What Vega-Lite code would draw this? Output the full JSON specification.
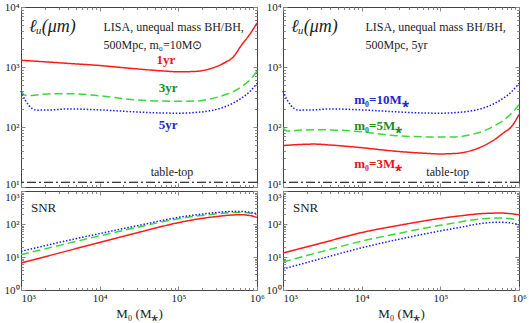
{
  "$schema": "https://vega.github.io/schema/vega-lite/v6.json",
  "background": "white",
  "padding": {"left": 3, "right": 6, "top": 0, "bottom": 4},
  "columns": 2,
  "spacing": {"row": 4, "column": 26},
  "bounds": "flush",
  "datasets": {
    "curves": [
      {"p":"TL","s":"1yr","M":1000,"v":1294},{"p":"TL","s":"1yr","M":1585,"v":1245},{"p":"TL","s":"1yr","M":2512,"v":1197},{"p":"TL","s":"1yr","M":3981,"v":1148},{"p":"TL","s":"1yr","M":10000,"v":1059},{"p":"TL","s":"1yr","M":25119,"v":948},{"p":"TL","s":"1yr","M":63096,"v":861},{"p":"TL","s":"1yr","M":100000,"v":832},{"p":"TL","s":"1yr","M":158489,"v":841},{"p":"TL","s":"1yr","M":251189,"v":933},{"p":"TL","s":"1yr","M":398107,"v":1202},{"p":"TL","s":"1yr","M":501187,"v":1479},{"p":"TL","s":"1yr","M":630957,"v":2291},{"p":"TL","s":"1yr","M":794328,"v":3388},{"p":"TL","s":"1yr","M":1000000,"v":5407},
      {"p":"TL","s":"3yr","M":1000,"v":409},{"p":"TL","s":"3yr","M":1122,"v":339},{"p":"TL","s":"3yr","M":1259,"v":335},{"p":"TL","s":"3yr","M":1585,"v":343},{"p":"TL","s":"3yr","M":2512,"v":359},{"p":"TL","s":"3yr","M":3981,"v":359},{"p":"TL","s":"3yr","M":10000,"v":331},{"p":"TL","s":"3yr","M":25119,"v":288},{"p":"TL","s":"3yr","M":63096,"v":270},{"p":"TL","s":"3yr","M":100000,"v":269},{"p":"TL","s":"3yr","M":158489,"v":270},{"p":"TL","s":"3yr","M":251189,"v":292},{"p":"TL","s":"3yr","M":398107,"v":347},{"p":"TL","s":"3yr","M":501187,"v":389},{"p":"TL","s":"3yr","M":630957,"v":468},{"p":"TL","s":"3yr","M":794328,"v":589},{"p":"TL","s":"3yr","M":1000000,"v":851},
      {"p":"TL","s":"5yr","M":1000,"v":398},{"p":"TL","s":"5yr","M":1122,"v":288},{"p":"TL","s":"5yr","M":1259,"v":229},{"p":"TL","s":"5yr","M":1585,"v":191},{"p":"TL","s":"5yr","M":2512,"v":193},{"p":"TL","s":"5yr","M":3981,"v":200},{"p":"TL","s":"5yr","M":10000,"v":193},{"p":"TL","s":"5yr","M":25119,"v":180},{"p":"TL","s":"5yr","M":63096,"v":171},{"p":"TL","s":"5yr","M":100000,"v":170},{"p":"TL","s":"5yr","M":158489,"v":174},{"p":"TL","s":"5yr","M":251189,"v":186},{"p":"TL","s":"5yr","M":398107,"v":219},{"p":"TL","s":"5yr","M":501187,"v":251},{"p":"TL","s":"5yr","M":630957,"v":302},{"p":"TL","s":"5yr","M":794328,"v":380},{"p":"TL","s":"5yr","M":1000000,"v":537},
      {"p":"TR","s":"10M","M":1000,"v":398},{"p":"TR","s":"10M","M":1122,"v":288},{"p":"TR","s":"10M","M":1259,"v":229},{"p":"TR","s":"10M","M":1585,"v":191},{"p":"TR","s":"10M","M":2512,"v":193},{"p":"TR","s":"10M","M":3981,"v":200},{"p":"TR","s":"10M","M":10000,"v":193},{"p":"TR","s":"10M","M":25119,"v":180},{"p":"TR","s":"10M","M":63096,"v":171},{"p":"TR","s":"10M","M":100000,"v":170},{"p":"TR","s":"10M","M":158489,"v":174},{"p":"TR","s":"10M","M":251189,"v":186},{"p":"TR","s":"10M","M":398107,"v":219},{"p":"TR","s":"10M","M":501187,"v":251},{"p":"TR","s":"10M","M":630957,"v":302},{"p":"TR","s":"10M","M":794328,"v":380},{"p":"TR","s":"10M","M":1000000,"v":537},
      {"p":"TR","s":"5M","M":1000,"v":96.2},{"p":"TR","s":"5M","M":1122,"v":86.1},{"p":"TR","s":"5M","M":1259,"v":86.1},{"p":"TR","s":"5M","M":1585,"v":88.1},{"p":"TR","s":"5M","M":2512,"v":90.2},{"p":"TR","s":"5M","M":3981,"v":89.5},{"p":"TR","s":"5M","M":10000,"v":83.2},{"p":"TR","s":"5M","M":25119,"v":72.4},{"p":"TR","s":"5M","M":63096,"v":68.4},{"p":"TR","s":"5M","M":100000,"v":68.1},{"p":"TR","s":"5M","M":158489,"v":68.4},{"p":"TR","s":"5M","M":251189,"v":75.0},{"p":"TR","s":"5M","M":398107,"v":91.2},{"p":"TR","s":"5M","M":501187,"v":107.2},{"p":"TR","s":"5M","M":630957,"v":128.8},{"p":"TR","s":"5M","M":794328,"v":166},{"p":"TR","s":"5M","M":1000000,"v":235.5},
      {"p":"TR","s":"3M","M":1000,"v":49.0},{"p":"TR","s":"3M","M":1585,"v":51.0},{"p":"TR","s":"3M","M":2512,"v":51.9},{"p":"TR","s":"3M","M":3981,"v":50.1},{"p":"TR","s":"3M","M":10000,"v":45.2},{"p":"TR","s":"3M","M":25119,"v":39.8},{"p":"TR","s":"3M","M":63096,"v":36.5},{"p":"TR","s":"3M","M":100000,"v":35.6},{"p":"TR","s":"3M","M":158489,"v":36.3},{"p":"TR","s":"3M","M":251189,"v":40.7},{"p":"TR","s":"3M","M":398107,"v":52.5},{"p":"TR","s":"3M","M":501187,"v":63.1},{"p":"TR","s":"3M","M":630957,"v":79.4},{"p":"TR","s":"3M","M":794328,"v":100},{"p":"TR","s":"3M","M":1000000,"v":160.3},
      {"p":"BL","s":"1yr","M":1000,"v":6.58},{"p":"BL","s":"1yr","M":3162,"v":13.49},{"p":"BL","s":"1yr","M":10000,"v":27.5},{"p":"BL","s":"1yr","M":31623,"v":56.2},{"p":"BL","s":"1yr","M":100000,"v":109.6},{"p":"BL","s":"1yr","M":199526,"v":147.9},{"p":"BL","s":"1yr","M":316228,"v":169.8},{"p":"BL","s":"1yr","M":501187,"v":188.4},{"p":"BL","s":"1yr","M":630957,"v":190.5},{"p":"BL","s":"1yr","M":794328,"v":182},{"p":"BL","s":"1yr","M":1000000,"v":158.5},
      {"p":"BL","s":"3yr","M":1000,"v":11.75},{"p":"BL","s":"3yr","M":3162,"v":22.9},{"p":"BL","s":"3yr","M":10000,"v":43.7},{"p":"BL","s":"3yr","M":31623,"v":81.3},{"p":"BL","s":"3yr","M":100000,"v":144.5},{"p":"BL","s":"3yr","M":199526,"v":182},{"p":"BL","s":"3yr","M":316228,"v":204.2},{"p":"BL","s":"3yr","M":501187,"v":223.9},{"p":"BL","s":"3yr","M":630957,"v":223.9},{"p":"BL","s":"3yr","M":794328,"v":213.8},{"p":"BL","s":"3yr","M":1000000,"v":190.5},
      {"p":"BL","s":"5yr","M":1000,"v":14.8},{"p":"BL","s":"5yr","M":3162,"v":28.2},{"p":"BL","s":"5yr","M":10000,"v":51.3},{"p":"BL","s":"5yr","M":31623,"v":91.2},{"p":"BL","s":"5yr","M":100000,"v":158.5},{"p":"BL","s":"5yr","M":199526,"v":199.5},{"p":"BL","s":"5yr","M":316228,"v":223.9},{"p":"BL","s":"5yr","M":501187,"v":239.9},{"p":"BL","s":"5yr","M":630957,"v":239.9},{"p":"BL","s":"5yr","M":794328,"v":229.1},{"p":"BL","s":"5yr","M":1000000,"v":204.2},
      {"p":"BR","s":"3M","M":1000,"v":13.2},{"p":"BR","s":"3M","M":3162,"v":26.9},{"p":"BR","s":"3M","M":10000,"v":55.0},{"p":"BR","s":"3M","M":31623,"v":93.3},{"p":"BR","s":"3M","M":100000,"v":147.9},{"p":"BR","s":"3M","M":199526,"v":182},{"p":"BR","s":"3M","M":316228,"v":204.2},{"p":"BR","s":"3M","M":501187,"v":213.8},{"p":"BR","s":"3M","M":630957,"v":213.8},{"p":"BR","s":"3M","M":794328,"v":204.2},{"p":"BR","s":"3M","M":1000000,"v":190.5},
      {"p":"BR","s":"5M","M":1000,"v":7.08},{"p":"BR","s":"5M","M":3162,"v":14.8},{"p":"BR","s":"5M","M":10000,"v":30.2},{"p":"BR","s":"5M","M":31623,"v":53.7},{"p":"BR","s":"5M","M":100000,"v":91.2},{"p":"BR","s":"5M","M":199526,"v":120.2},{"p":"BR","s":"5M","M":316228,"v":141.3},{"p":"BR","s":"5M","M":501187,"v":151.4},{"p":"BR","s":"5M","M":630957,"v":151.4},{"p":"BR","s":"5M","M":794328,"v":144.5},{"p":"BR","s":"5M","M":1000000,"v":128.8},
      {"p":"BR","s":"10M","M":1000,"v":4.33},{"p":"BR","s":"10M","M":3162,"v":9.12},{"p":"BR","s":"10M","M":10000,"v":19.05},{"p":"BR","s":"10M","M":31623,"v":35.5},{"p":"BR","s":"10M","M":100000,"v":61.7},{"p":"BR","s":"10M","M":199526,"v":83.2},{"p":"BR","s":"10M","M":316228,"v":102.3},{"p":"BR","s":"10M","M":501187,"v":112.2},{"p":"BR","s":"10M","M":630957,"v":112.2},{"p":"BR","s":"10M","M":794328,"v":107.2},{"p":"BR","s":"10M","M":1000000,"v":95.5}
    ],
    "notes": [
      {"p":"TL","M":11200,"v":4642,"t":"LISA, unequal mass BH/BH,"},
      {"p":"TL","M":11200,"v":2326,"t":"500Mpc, m₀=10M⊙"},
      {"p":"TR","M":11200,"v":4642,"t":"LISA, unequal mass BH/BH,"},
      {"p":"TR","M":11200,"v":2326,"t":"500Mpc, 5yr"}
    ],
    "sym": [
      {"p":"TL","M":1265,"v":4642,"t":"ℓᵤ(μm)"},
      {"p":"TR","M":1265,"v":4642,"t":"ℓᵤ(μm)"},
      {"p":"BL","M":1340,"v":305,"t":"SNR"},
      {"p":"BR","M":1340,"v":305,"t":"SNR"}
    ],
    "tags": [
      {"p":"TL","M":69660,"v":1309,"t":"1yr","s":"1yr"},
      {"p":"TL","M":74000,"v":447,"t":"3yr","s":"3yr"},
      {"p":"TL","M":74000,"v":108,"t":"5yr","s":"5yr"},
      {"p":"TR","M":8050,"v":282,"t":"m₀=10M⁎","s":"10M"},
      {"p":"TR","M":8050,"v":104,"t":"m₀=5M⁎","s":"5M"},
      {"p":"TR","M":8050,"v":24.2,"t":"m₀=3M⁎","s":"3M"}
    ],
    "tt": [
      {"p":"TL","M":83000,"v":17.8,"t":"table-top"},
      {"p":"TR","M":124000,"v":17.8,"t":"table-top"}
    ]
  },
  "concat": [
    {
      "width": 236, "height": 180,
      "resolve": {"axis": {"x": "independent", "y": "independent"}},
      "layer": [
        {
          "data": {"name": "curves"},
          "transform": [{"filter": "datum.p == 'TL'"}],
          "mark": {"type": "line", "interpolate": "monotone", "strokeWidth": 1.5},
          "encoding": {
            "x": {"field": "M", "type": "quantitative", "scale": {"type": "log", "domain": [1000, 1000000], "nice": false}, "axis": {"orient": "bottom", "values": [1000, 10000, 100000, 1000000], "labels": false, "title": null}},
            "y": {"field": "v", "type": "quantitative", "scale": {"type": "log", "domain": [10, 10000], "nice": false}, "axis": {"orient": "left", "values": [10, 100, 1000, 10000], "labelExpr": "'10' + ['⁰','¹','²','³','⁴','⁵','⁶'][round(log(datum.value)/LN10)]", "labelBaseline": {"condition": {"test": "datum.value <= 10", "value": "alphabetic"}, "value": "middle"}, "title": null}},
            "color": {"field": "s", "type": "nominal", "legend": null, "scale": {"domain": ["1yr","3yr","5yr","3M","5M","10M"], "range": ["#ff1a1a","#3ad83a","#1a1aff","#ff1a1a","#3ad83a","#1a1aff"]}},
            "strokeDash": {"field": "s", "type": "nominal", "legend": null, "scale": {"domain": ["1yr","3yr","5yr","3M","5M","10M"], "range": [[1,0],[8,4],[1.5,1.8],[1,0],[8,4],[1.5,1.8]]}}
          }
        },
        {"data": {"values": [{}]}, "mark": {"type": "rule", "color": "#000", "strokeWidth": 1.2, "strokeDash": [9,3,2,3]}, "encoding": {"y": {"datum": 12, "type": "quantitative", "axis": null}}},
        {"data": {"name": "notes"}, "transform": [{"filter": "datum.p == 'TL'"}], "mark": {"type": "text", "align": "left", "baseline": "middle", "fontSize": 12, "font": "Liberation Serif", "color": "#222"}, "encoding": {"x": {"field": "M", "type": "quantitative", "axis": null}, "y": {"field": "v", "type": "quantitative", "axis": null}, "text": {"field": "t"}}},
        {"data": {"name": "sym"}, "transform": [{"filter": "datum.p == 'TL'"}], "mark": {"type": "text", "align": "left", "baseline": "middle", "fontSize": 18, "font": "Liberation Serif", "fontStyle": "italic", "color": "#222"}, "encoding": {"x": {"field": "M", "type": "quantitative", "axis": null}, "y": {"field": "v", "type": "quantitative", "axis": null}, "text": {"field": "t"}}},
        {"data": {"name": "tags"}, "transform": [{"filter": "datum.p == 'TL'"}], "mark": {"type": "text", "align": "center", "baseline": "middle", "fontSize": 13, "fontWeight": "bold", "font": "Liberation Serif"}, "encoding": {"x": {"field": "M", "type": "quantitative", "axis": null}, "y": {"field": "v", "type": "quantitative", "axis": null}, "text": {"field": "t"}, "fill": {"field": "s", "type": "nominal", "legend": null, "scale": {"domain": ["1yr","3yr","5yr","3M","5M","10M"], "range": ["#e8141c","#1e8a1e","#2626d2","#e8141c","#1e8a1e","#2626d2"]}}}},
        {"data": {"name": "tt"}, "transform": [{"filter": "datum.p == 'TL'"}], "mark": {"type": "text", "align": "center", "baseline": "middle", "fontSize": 12, "font": "Liberation Serif", "color": "#222"}, "encoding": {"x": {"field": "M", "type": "quantitative", "axis": null}, "y": {"field": "v", "type": "quantitative", "axis": null}, "text": {"field": "t"}}},
        {"data": {"values": [{}]}, "mark": {"type": "point", "opacity": 0}, "encoding": {
          "x": {"datum": 10000, "type": "quantitative", "axis": {"orient": "bottom", "values": [2000,3000,4000,5000,6000,7000,8000,9000,20000,30000,40000,50000,60000,70000,80000,90000,200000,300000,400000,500000,600000,700000,800000,900000], "labels": false, "tickSize": -2.5, "title": null}},
          "y": {"datum": 100, "type": "quantitative", "axis": {"orient": "left", "values": [20,30,40,50,60,70,80,90,200,300,400,500,600,700,800,900,2000,3000,4000,5000,6000,7000,8000,9000], "labels": false, "tickSize": -2.5, "title": null}}}},
        {"data": {"values": [{}]}, "mark": {"type": "point", "opacity": 0}, "encoding": {
          "x": {"datum": 10000, "type": "quantitative", "axis": {"orient": "top", "values": [1000, 10000, 100000, 1000000], "labels": false, "title": null}},
          "y": {"datum": 100, "type": "quantitative", "axis": {"orient": "right", "values": [10, 100, 1000, 10000], "labels": false, "title": null}}}},
        {"data": {"values": [{}]}, "mark": {"type": "point", "opacity": 0}, "encoding": {
          "x": {"datum": 10000, "type": "quantitative", "axis": {"orient": "top", "values": [2000,3000,4000,5000,6000,7000,8000,9000,20000,30000,40000,50000,60000,70000,80000,90000,200000,300000,400000,500000,600000,700000,800000,900000], "labels": false, "tickSize": -2.5, "title": null}},
          "y": {"datum": 100, "type": "quantitative", "axis": {"orient": "right", "values": [20,30,40,50,60,70,80,90,200,300,400,500,600,700,800,900,2000,3000,4000,5000,6000,7000,8000,9000], "labels": false, "tickSize": -2.5, "title": null}}}}
      ]
    },
    {
      "width": 236, "height": 180,
      "resolve": {"axis": {"x": "independent", "y": "independent"}},
      "layer": [
        {
          "data": {"name": "curves"},
          "transform": [{"filter": "datum.p == 'TR'"}],
          "mark": {"type": "line", "interpolate": "monotone", "strokeWidth": 1.5},
          "encoding": {
            "x": {"field": "M", "type": "quantitative", "scale": {"type": "log", "domain": [1000, 1000000], "nice": false}, "axis": {"orient": "bottom", "values": [1000, 10000, 100000, 1000000], "labels": false, "title": null}},
            "y": {"field": "v", "type": "quantitative", "scale": {"type": "log", "domain": [10, 10000], "nice": false}, "axis": {"orient": "left", "values": [10, 100, 1000, 10000], "labelExpr": "'10' + ['⁰','¹','²','³','⁴','⁵','⁶'][round(log(datum.value)/LN10)]", "labelBaseline": {"condition": {"test": "datum.value <= 10", "value": "alphabetic"}, "value": "middle"}, "title": null}},
            "color": {"field": "s", "type": "nominal", "legend": null, "scale": {"domain": ["1yr","3yr","5yr","3M","5M","10M"], "range": ["#ff1a1a","#3ad83a","#1a1aff","#ff1a1a","#3ad83a","#1a1aff"]}},
            "strokeDash": {"field": "s", "type": "nominal", "legend": null, "scale": {"domain": ["1yr","3yr","5yr","3M","5M","10M"], "range": [[1,0],[8,4],[1.5,1.8],[1,0],[8,4],[1.5,1.8]]}}
          }
        },
        {"data": {"values": [{}]}, "mark": {"type": "rule", "color": "#000", "strokeWidth": 1.2, "strokeDash": [9,3,2,3]}, "encoding": {"y": {"datum": 12, "type": "quantitative", "axis": null}}},
        {"data": {"name": "notes"}, "transform": [{"filter": "datum.p == 'TR'"}], "mark": {"type": "text", "align": "left", "baseline": "middle", "fontSize": 12, "font": "Liberation Serif", "color": "#222"}, "encoding": {"x": {"field": "M", "type": "quantitative", "axis": null}, "y": {"field": "v", "type": "quantitative", "axis": null}, "text": {"field": "t"}}},
        {"data": {"name": "sym"}, "transform": [{"filter": "datum.p == 'TR'"}], "mark": {"type": "text", "align": "left", "baseline": "middle", "fontSize": 18, "font": "Liberation Serif", "fontStyle": "italic", "color": "#222"}, "encoding": {"x": {"field": "M", "type": "quantitative", "axis": null}, "y": {"field": "v", "type": "quantitative", "axis": null}, "text": {"field": "t"}}},
        {"data": {"name": "tags"}, "transform": [{"filter": "datum.p == 'TR'"}], "mark": {"type": "text", "align": "left", "baseline": "middle", "fontSize": 13, "fontWeight": "bold", "font": "Liberation Serif"}, "encoding": {"x": {"field": "M", "type": "quantitative", "axis": null}, "y": {"field": "v", "type": "quantitative", "axis": null}, "text": {"field": "t"}, "fill": {"field": "s", "type": "nominal", "legend": null, "scale": {"domain": ["1yr","3yr","5yr","3M","5M","10M"], "range": ["#e8141c","#1e8a1e","#2626d2","#e8141c","#1e8a1e","#2626d2"]}}}},
        {"data": {"name": "tt"}, "transform": [{"filter": "datum.p == 'TR'"}], "mark": {"type": "text", "align": "center", "baseline": "middle", "fontSize": 12, "font": "Liberation Serif", "color": "#222"}, "encoding": {"x": {"field": "M", "type": "quantitative", "axis": null}, "y": {"field": "v", "type": "quantitative", "axis": null}, "text": {"field": "t"}}},
        {"data": {"values": [{}]}, "mark": {"type": "point", "opacity": 0}, "encoding": {
          "x": {"datum": 10000, "type": "quantitative", "axis": {"orient": "bottom", "values": [2000,3000,4000,5000,6000,7000,8000,9000,20000,30000,40000,50000,60000,70000,80000,90000,200000,300000,400000,500000,600000,700000,800000,900000], "labels": false, "tickSize": -2.5, "title": null}},
          "y": {"datum": 100, "type": "quantitative", "axis": {"orient": "left", "values": [20,30,40,50,60,70,80,90,200,300,400,500,600,700,800,900,2000,3000,4000,5000,6000,7000,8000,9000], "labels": false, "tickSize": -2.5, "title": null}}}},
        {"data": {"values": [{}]}, "mark": {"type": "point", "opacity": 0}, "encoding": {
          "x": {"datum": 10000, "type": "quantitative", "axis": {"orient": "top", "values": [1000, 10000, 100000, 1000000], "labels": false, "title": null}},
          "y": {"datum": 100, "type": "quantitative", "axis": {"orient": "right", "values": [10, 100, 1000, 10000], "labels": false, "title": null}}}},
        {"data": {"values": [{}]}, "mark": {"type": "point", "opacity": 0}, "encoding": {
          "x": {"datum": 10000, "type": "quantitative", "axis": {"orient": "top", "values": [2000,3000,4000,5000,6000,7000,8000,9000,20000,30000,40000,50000,60000,70000,80000,90000,200000,300000,400000,500000,600000,700000,800000,900000], "labels": false, "tickSize": -2.5, "title": null}},
          "y": {"datum": 100, "type": "quantitative", "axis": {"orient": "right", "values": [20,30,40,50,60,70,80,90,200,300,400,500,600,700,800,900,2000,3000,4000,5000,6000,7000,8000,9000], "labels": false, "tickSize": -2.5, "title": null}}}}
      ]
    },
    {
      "width": 236, "height": 99,
      "resolve": {"axis": {"x": "independent", "y": "independent"}},
      "layer": [
        {
          "data": {"name": "curves"},
          "transform": [{"filter": "datum.p == 'BL'"}],
          "mark": {"type": "line", "interpolate": "monotone", "strokeWidth": 1.5},
          "encoding": {
            "x": {"field": "M", "type": "quantitative", "scale": {"type": "log", "domain": [1000, 1000000], "nice": false}, "axis": {"orient": "bottom", "values": [1000, 10000, 100000, 1000000], "labelExpr": "'10' + ['⁰','¹','²','³','⁴','⁵','⁶'][round(log(datum.value)/LN10)]", "labelAlign": {"condition": {"test": "datum.value <= 1000", "value": "left"}, "value": "center"}, "title": "M₀ (M⁎)"}},
            "y": {"field": "v", "type": "quantitative", "scale": {"type": "log", "domain": [1, 1000], "nice": false}, "axis": {"orient": "left", "values": [1, 10, 100, 1000], "labelExpr": "'10' + ['⁰','¹','²','³','⁴','⁵','⁶'][round(log(datum.value)/LN10)]", "labelBaseline": {"condition": {"test": "datum.value >= 1000", "value": "top"}, "value": "middle"}, "title": null}},
            "color": {"field": "s", "type": "nominal", "legend": null, "scale": {"domain": ["1yr","3yr","5yr","3M","5M","10M"], "range": ["#ff1a1a","#3ad83a","#1a1aff","#ff1a1a","#3ad83a","#1a1aff"]}},
            "strokeDash": {"field": "s", "type": "nominal", "legend": null, "scale": {"domain": ["1yr","3yr","5yr","3M","5M","10M"], "range": [[1,0],[8,4],[1.5,1.8],[1,0],[8,4],[1.5,1.8]]}}
          }
        },
        {"data": {"name": "sym"}, "transform": [{"filter": "datum.p == 'BL'"}], "mark": {"type": "text", "align": "left", "baseline": "middle", "fontSize": 13, "font": "Liberation Serif", "color": "#222"}, "encoding": {"x": {"field": "M", "type": "quantitative", "axis": null}, "y": {"field": "v", "type": "quantitative", "axis": null}, "text": {"field": "t"}}},
        {"data": {"values": [{}]}, "mark": {"type": "point", "opacity": 0}, "encoding": {
          "x": {"datum": 10000, "type": "quantitative", "axis": {"orient": "bottom", "values": [2000,3000,4000,5000,6000,7000,8000,9000,20000,30000,40000,50000,60000,70000,80000,90000,200000,300000,400000,500000,600000,700000,800000,900000], "labels": false, "tickSize": -2.5, "title": null}},
          "y": {"datum": 10, "type": "quantitative", "axis": {"orient": "left", "values": [2,3,4,5,6,7,8,9,20,30,40,50,60,70,80,90,200,300,400,500,600,700,800,900], "labels": false, "tickSize": -2.5, "title": null}}}},
        {"data": {"values": [{}]}, "mark": {"type": "point", "opacity": 0}, "encoding": {
          "x": {"datum": 10000, "type": "quantitative", "axis": {"orient": "top", "values": [1000, 10000, 100000, 1000000], "labels": false, "title": null}},
          "y": {"datum": 10, "type": "quantitative", "axis": {"orient": "right", "values": [1, 10, 100, 1000], "labels": false, "title": null}}}},
        {"data": {"values": [{}]}, "mark": {"type": "point", "opacity": 0}, "encoding": {
          "x": {"datum": 10000, "type": "quantitative", "axis": {"orient": "top", "values": [2000,3000,4000,5000,6000,7000,8000,9000,20000,30000,40000,50000,60000,70000,80000,90000,200000,300000,400000,500000,600000,700000,800000,900000], "labels": false, "tickSize": -2.5, "title": null}},
          "y": {"datum": 10, "type": "quantitative", "axis": {"orient": "right", "values": [2,3,4,5,6,7,8,9,20,30,40,50,60,70,80,90,200,300,400,500,600,700,800,900], "labels": false, "tickSize": -2.5, "title": null}}}}
      ]
    },
    {
      "width": 236, "height": 99,
      "resolve": {"axis": {"x": "independent", "y": "independent"}},
      "layer": [
        {
          "data": {"name": "curves"},
          "transform": [{"filter": "datum.p == 'BR'"}],
          "mark": {"type": "line", "interpolate": "monotone", "strokeWidth": 1.5},
          "encoding": {
            "x": {"field": "M", "type": "quantitative", "scale": {"type": "log", "domain": [1000, 1000000], "nice": false}, "axis": {"orient": "bottom", "values": [1000, 10000, 100000, 1000000], "labelExpr": "'10' + ['⁰','¹','²','³','⁴','⁵','⁶'][round(log(datum.value)/LN10)]", "labelAlign": {"condition": {"test": "datum.value <= 1000", "value": "left"}, "value": "center"}, "title": "M₀ (M⁎)"}},
            "y": {"field": "v", "type": "quantitative", "scale": {"type": "log", "domain": [1, 1000], "nice": false}, "axis": {"orient": "left", "values": [1, 10, 100, 1000], "labelExpr": "'10' + ['⁰','¹','²','³','⁴','⁵','⁶'][round(log(datum.value)/LN10)]", "labelBaseline": {"condition": {"test": "datum.value >= 1000", "value": "top"}, "value": "middle"}, "title": null}},
            "color": {"field": "s", "type": "nominal", "legend": null, "scale": {"domain": ["1yr","3yr","5yr","3M","5M","10M"], "range": ["#ff1a1a","#3ad83a","#1a1aff","#ff1a1a","#3ad83a","#1a1aff"]}},
            "strokeDash": {"field": "s", "type": "nominal", "legend": null, "scale": {"domain": ["1yr","3yr","5yr","3M","5M","10M"], "range": [[1,0],[8,4],[1.5,1.8],[1,0],[8,4],[1.5,1.8]]}}
          }
        },
        {"data": {"name": "sym"}, "transform": [{"filter": "datum.p == 'BR'"}], "mark": {"type": "text", "align": "left", "baseline": "middle", "fontSize": 13, "font": "Liberation Serif", "color": "#222"}, "encoding": {"x": {"field": "M", "type": "quantitative", "axis": null}, "y": {"field": "v", "type": "quantitative", "axis": null}, "text": {"field": "t"}}},
        {"data": {"values": [{}]}, "mark": {"type": "point", "opacity": 0}, "encoding": {
          "x": {"datum": 10000, "type": "quantitative", "axis": {"orient": "bottom", "values": [2000,3000,4000,5000,6000,7000,8000,9000,20000,30000,40000,50000,60000,70000,80000,90000,200000,300000,400000,500000,600000,700000,800000,900000], "labels": false, "tickSize": -2.5, "title": null}},
          "y": {"datum": 10, "type": "quantitative", "axis": {"orient": "left", "values": [2,3,4,5,6,7,8,9,20,30,40,50,60,70,80,90,200,300,400,500,600,700,800,900], "labels": false, "tickSize": -2.5, "title": null}}}},
        {"data": {"values": [{}]}, "mark": {"type": "point", "opacity": 0}, "encoding": {
          "x": {"datum": 10000, "type": "quantitative", "axis": {"orient": "top", "values": [1000, 10000, 100000, 1000000], "labels": false, "title": null}},
          "y": {"datum": 10, "type": "quantitative", "axis": {"orient": "right", "values": [1, 10, 100, 1000], "labels": false, "title": null}}}},
        {"data": {"values": [{}]}, "mark": {"type": "point", "opacity": 0}, "encoding": {
          "x": {"datum": 10000, "type": "quantitative", "axis": {"orient": "top", "values": [2000,3000,4000,5000,6000,7000,8000,9000,20000,30000,40000,50000,60000,70000,80000,90000,200000,300000,400000,500000,600000,700000,800000,900000], "labels": false, "tickSize": -2.5, "title": null}},
          "y": {"datum": 10, "type": "quantitative", "axis": {"orient": "right", "values": [2,3,4,5,6,7,8,9,20,30,40,50,60,70,80,90,200,300,400,500,600,700,800,900], "labels": false, "tickSize": -2.5, "title": null}}}}
      ]
    }
  ],
  "config": {
    "view": {"stroke": "#444", "strokeWidth": 1},
    "axis": {"grid": false, "domain": false, "tickColor": "#888", "tickSize": -4, "labelPadding": 6, "labelFont": "Liberation Serif", "labelFontSize": 11, "labelColor": "#222", "titleFont": "Liberation Serif", "titleFontSize": 13, "titleFontWeight": "normal", "titleColor": "#222", "titlePadding": 4}
  }
}
